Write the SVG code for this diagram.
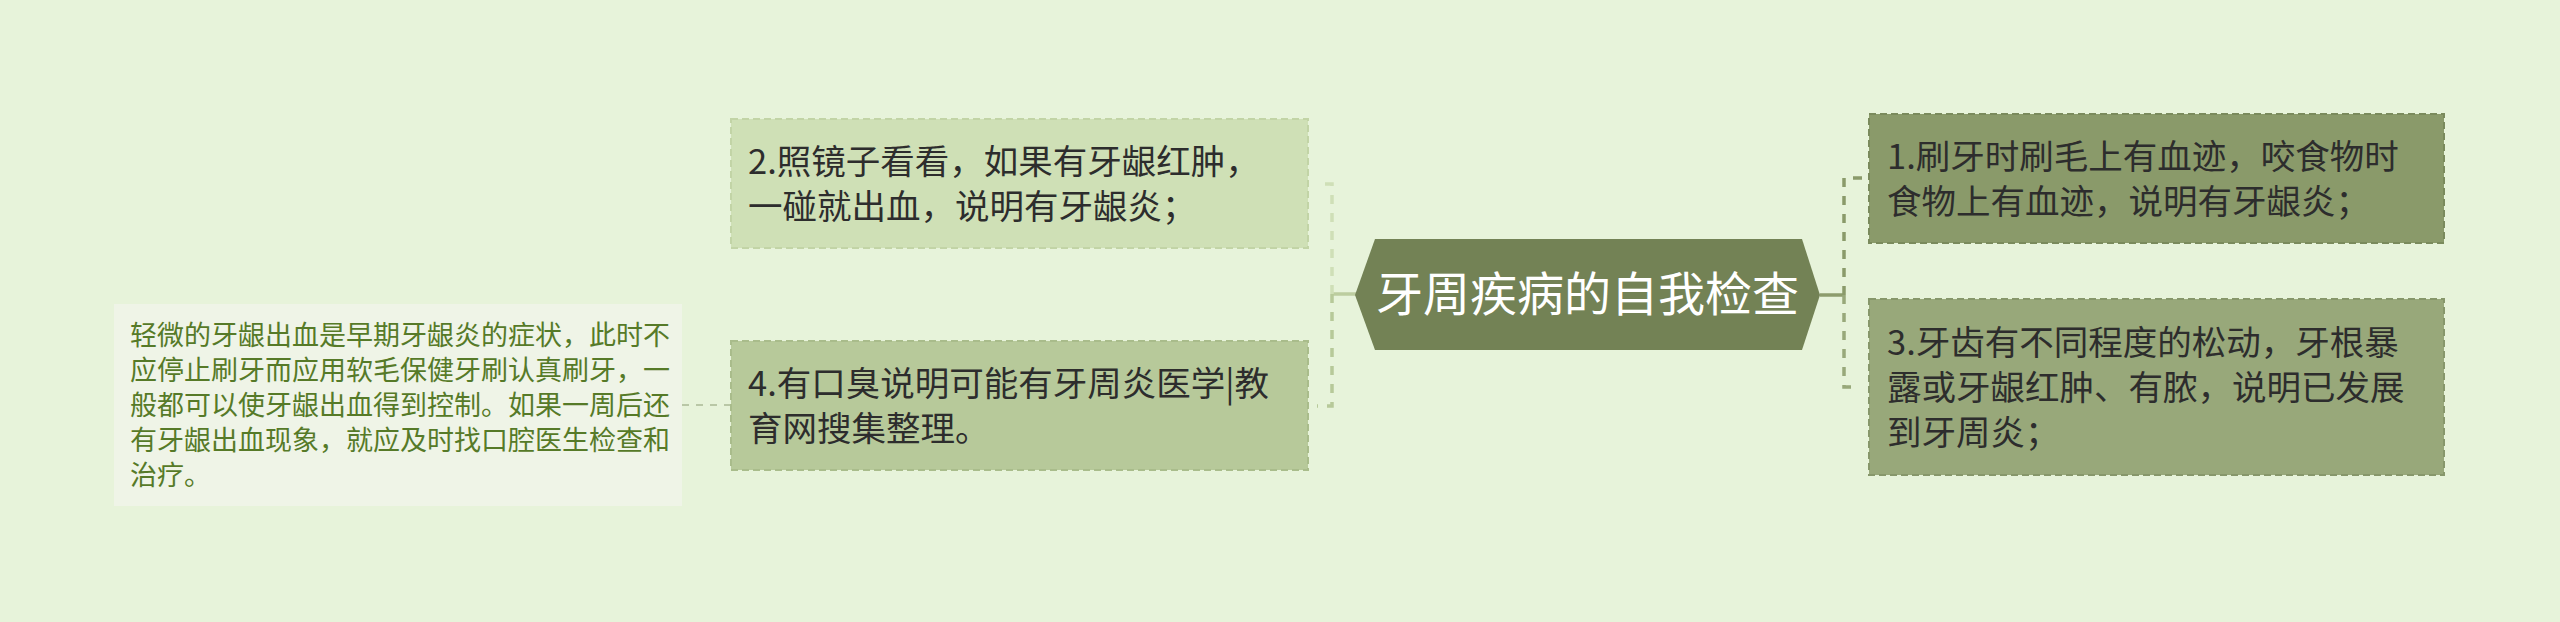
<svg xmlns="http://www.w3.org/2000/svg" width="2560" height="622" viewBox="0 0 2560 622">
<style>
text{font-family:"Noto Sans CJK SC","Noto Sans",sans-serif}
.t{font-size:34.5px;fill:#2d2d2d}
.n{font-size:27px;fill:#567a28}
.title{font-size:47px;fill:#ffffff}
.box{stroke-width:2;stroke-dasharray:7 4}
.c{fill:none;stroke-width:3.5}
.d{stroke-dasharray:9 9}
</style>
<rect width="2560" height="622" fill="#e7f3da"/>
<g id="connectors">
  <line class="c" x1="1357" y1="294" x2="1332" y2="294" stroke="#bccd9f"/>
  <path class="c d" d="M1332 294 V184 H1317" stroke="#cfdfb7"/>
  <path class="c d" d="M1332 294 V406 H1317" stroke="#b7c999"/>
  <line class="c" x1="1820" y1="295" x2="1844" y2="295" stroke="#8d9c6c"/>
  <path class="c d" d="M1844 295 V178 H1868" stroke="#8a9a6a"/>
  <path class="c d" d="M1844 295 V387 H1860" stroke="#98a87a"/>
  <line x1="731" y1="405" x2="682" y2="405" stroke="#b9c7a6" stroke-width="2" stroke-dasharray="7 7"/>
</g>
<g id="center">
  <polygon points="1355,295 1375,239 1802,239 1820,295 1802,350 1375,350" fill="#738255"/>
  <text class="title" x="1587.5" y="311" text-anchor="middle">牙周疾病的自我检查</text>
</g>
<g id="node2">
  <rect class="box" x="731" y="119" width="577" height="129" fill="#cfe0b6" stroke="#c2d4a6"/>
  <text class="t"><tspan x="748" y="174">2.照镜子看看，如果有牙龈红肿，</tspan><tspan x="748" y="219">一碰就出血，说明有牙龈炎；</tspan></text>
</g>
<g id="node4">
  <rect class="box" x="731" y="341" width="577" height="129" fill="#b7c99a" stroke="#a9bc8b"/>
  <text class="t"><tspan x="748" y="396">4.有口臭说明可能有牙周炎医学|教</tspan><tspan x="748" y="441">育网搜集整理。</tspan></text>
</g>
<g id="note">
  <rect x="114" y="304" width="568" height="202" fill="#eff4e7"/>
  <text class="n"><tspan x="130" y="345">轻微的牙龈出血是早期牙龈炎的症状，此时不</tspan><tspan x="130" y="380">应停止刷牙而应用软毛保健牙刷认真刷牙，一</tspan><tspan x="130" y="415">般都可以使牙龈出血得到控制。如果一周后还</tspan><tspan x="130" y="450">有牙龈出血现象，就应及时找口腔医生检查和</tspan><tspan x="130" y="485">治疗。</tspan></text>
</g>
<g id="node1">
  <rect class="box" x="1869" y="114" width="575" height="129" fill="#8a9a6a" stroke="#7a8a5c"/>
  <text class="t"><tspan x="1887" y="169">1.刷牙时刷毛上有血迹，咬食物时</tspan><tspan x="1887" y="214">食物上有血迹，说明有牙龈炎；</tspan></text>
</g>
<g id="node3">
  <rect class="box" x="1869" y="299" width="575" height="176" fill="#98a87a" stroke="#87976b"/>
  <text class="t"><tspan x="1887" y="355">3.牙齿有不同程度的松动，牙根暴</tspan><tspan x="1887" y="400">露或牙龈红肿、有脓，说明已发展</tspan><tspan x="1887" y="445">到牙周炎；</tspan></text>
</g>
</svg>
